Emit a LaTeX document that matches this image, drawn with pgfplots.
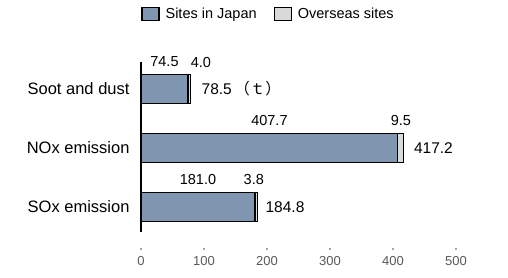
\documentclass[border=0pt]{standalone}
\usepackage{fontspec}
\setmainfont{Liberation Sans}
\newfontfamily\cjk{Noto Sans CJK JP}
\usepackage{pgfplots}
\pgfplotsset{compat=1.18}
\definecolor{jp}{RGB}{128,150,176}
\definecolor{ov}{RGB}{217,217,217}
\definecolor{tickgray}{RGB}{89,89,89}
\tikzset{vlab/.style={font=\fontsize{14.5}{16}\selectfont, inner sep=0pt, yshift=27pt},
  tlab/.style={font=\fontsize{15.5}{17}\selectfont, inner sep=0pt, anchor=west}}
\begin{document}
\begin{tikzpicture}
\useasboundingbox (0,0) rectangle (508pt,278pt);
\begin{axis}[
  at={(141pt,46pt)}, anchor=south west,
  scale only axis, width=315pt, height=170pt,
  xbar stacked, bar width=29pt,
  xmin=0, xmax=500,
  ymin=-0.458, ymax=2.424, y dir=reverse,
  axis x line*=bottom, axis y line*=left,
  x axis line style={draw=none},
  y axis line style={line width=1.6pt,-},
  ytick={0,1,2}, yticklabels={Soot and dust, NOx emission, SOx emission},
  ytick style={draw=none},
  yticklabel style={font=\fontsize{16.5}{18}\selectfont, xshift=-8pt},
  xtick={0,100,...,500},
  /pgf/number format/assume math mode=true,
  xticklabel style={font=\fontsize{13}{15}\selectfont, text=tickgray, yshift=-21pt},
  x tick style={draw=gray!70, line width=2pt, yshift=-18pt},
  major tick length=2pt,
  legend style={at={(0.405,1.282)}, anchor=center, draw=none, legend columns=2,
    font=\fontsize{14.5}{16}\selectfont,
    /tikz/every even column/.append style={column sep=15pt}},
  clip=false,
]
\addplot[fill=jp, draw=black, line width=1.2pt,
  legend image code/.code={\draw[fill=jp, draw=black, line width=1.2pt] (0pt,-6.5pt) rectangle (17pt,6.5pt); \path (21pt,0pt);}]
  coordinates {(74.5,0) (407.7,1) (181.0,2)};
\addplot[fill=ov, draw=black, line width=1.2pt,
  legend image code/.code={\draw[fill=ov, draw=black, line width=1.2pt] (0pt,-6.5pt) rectangle (17pt,6.5pt); \path (21pt,0pt);}]
  coordinates {(4.0,0) (9.5,1) (3.8,2)};
\legend{Sites in Japan, Overseas sites}
\node[vlab] at (axis cs:37.25,0) {74.5};
\node[vlab] at (axis cs:95,0) {4.0};
\node[vlab] at (axis cs:203.85,1) {407.7};
\node[vlab] at (axis cs:412.45,1) {9.5};
\node[vlab] at (axis cs:90.5,2) {181.0};
\node[vlab] at (axis cs:179,2) {3.8};
\node[tlab, xshift=11pt] at (axis cs:78.5,0) {78.5\,{\cjk （ｔ）}};
\node[tlab, xshift=10pt] at (axis cs:417.2,1) {417.2};
\node[tlab, xshift=8pt] at (axis cs:184.8,2) {184.8};
\end{axis}
\end{tikzpicture}
\end{document}
